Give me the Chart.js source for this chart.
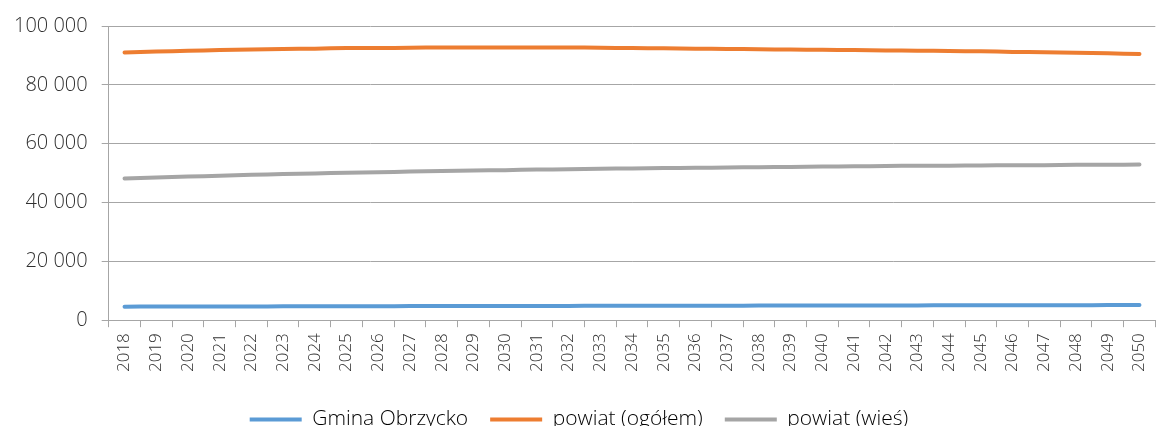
<!DOCTYPE html>
<html lang="pl">
<head>
  <meta charset="UTF-8" />
  <title>Prognoza ludności</title>
  <script src="https://cdn.jsdelivr.net/npm/chart.js"></script>
  <style>
    html, body {
      margin: 0;
      padding: 0;
      background: #fff;
      overflow: hidden;
      height: 426px;
    }
    #wrap {
      width: 1166px;
      height: 440px;
    }
  </style>
</head>
<body>
  <div id="wrap"><canvas id="chart" width="1166" height="440"></canvas></div>

  <script>
    // lata prognozy
    const years = [
      '2018','2019','2020','2021','2022','2023','2024','2025','2026','2027','2028',
      '2029','2030','2031','2032','2033','2034','2035','2036','2037','2038','2039',
      '2040','2041','2042','2043','2044','2045','2046','2047','2048','2049','2050'
    ];

    // Gmina Obrzycko
    const gmina = [
      4600, 4620, 4640, 4660, 4680, 4700, 4720, 4740, 4760, 4780, 4800,
      4810, 4830, 4850, 4860, 4880, 4890, 4910, 4920, 4940, 4950, 4970,
      4980, 5000, 5010, 5030, 5040, 5060, 5070, 5090, 5100, 5120, 5130
    ];

    // powiat (ogółem)
    const powiatOgolem = [
      91000, 91300, 91600, 91800, 92000, 92200, 92300, 92500, 92500, 92600, 92700,
      92700, 92700, 92700, 92700, 92600, 92500, 92400, 92300, 92200, 92100, 92000,
      91900, 91800, 91700, 91600, 91500, 91400, 91200, 91100, 90900, 90700, 90500
    ];

    // powiat (wieś)
    const powiatWies = [
      48200, 48500, 48800, 49100, 49400, 49700, 49900, 50100, 50300, 50500, 50700,
      50900, 51000, 51200, 51300, 51500, 51600, 51700, 51800, 51900, 52000, 52100,
      52200, 52300, 52400, 52500, 52500, 52600, 52700, 52700, 52800, 52800, 52900
    ];

    const yTicks = [0, 20000, 40000, 60000, 80000, 100000];

    // format z odstępem tysięcy
    function formatNum(v) {
      return v.toString().replace(/\B(?=(\d{3})+(?!\d))/g, ' ');
    }

    const FONT = '"Open Sans", sans-serif';
    const gridColor = '#a6a6a6';
    const textColor = '#303030';

    const ctx = document.getElementById('chart').getContext('2d');
    new Chart(ctx, {
      type: 'line',
      data: {
        labels: years,
        datasets: [
          { label: 'Gmina Obrzycko', data: gmina, borderColor: '#5b9bd5', backgroundColor: '#5b9bd5' },
          { label: 'powiat (ogółem)', data: powiatOgolem, borderColor: '#ed7d31', backgroundColor: '#ed7d31' },
          { label: 'powiat (wieś)', data: powiatWies, borderColor: '#a5a5a5', backgroundColor: '#a5a5a5' }
        ]
      },
      options: {
        responsive: false,
        animation: false,
        layout: { padding: { top: 9, right: 8, left: 0, bottom: 0 } },
        elements: {
          point: { radius: 0 },
          line: { borderWidth: 4, tension: 0.2, borderCapStyle: 'round' }
        },
        scales: {
          x: {
            offset: true,
            afterFit: s => { s.height += 9; },
            grid: {
              display: true,
              drawOnChartArea: false,
              drawTicks: true,
              tickLength: 7,
              color: gridColor,
              offset: true
            },
            border: { color: gridColor, width: 1 },
            ticks: {
              minRotation: 90,
              maxRotation: 90,
              autoSkip: false,
              color: textColor,
              padding: 6,
              font: { family: FONT, size: 17, weight: 300 }
            }
          },
          y: {
            min: 0,
            max: 100000,
            afterBuildTicks: axis => { axis.ticks = yTicks.map(v => ({ value: v })); },
            grid: { color: gridColor, tickLength: 7 },
            border: { color: gridColor, width: 1 },
            ticks: {
              color: textColor,
              padding: 14,
              callback: v => formatNum(v),
              font: { family: FONT, size: 20, weight: 300 }
            }
          }
        },
        plugins: {
          legend: {
            position: 'bottom',
            labels: {
              boxWidth: 52,
              boxHeight: 4,
              padding: 22,
              color: textColor,
              font: { family: FONT, size: 21, weight: 300 },
              generateLabels: chart => chart.data.datasets.map((ds, i) => ({
                text: ds.label,
                fillStyle: ds.borderColor,
                strokeStyle: ds.borderColor,
                lineWidth: 0,
                datasetIndex: i
              }))
            }
          },
          tooltip: { enabled: false }
        }
      }
    });
  </script>
</body>
</html>
